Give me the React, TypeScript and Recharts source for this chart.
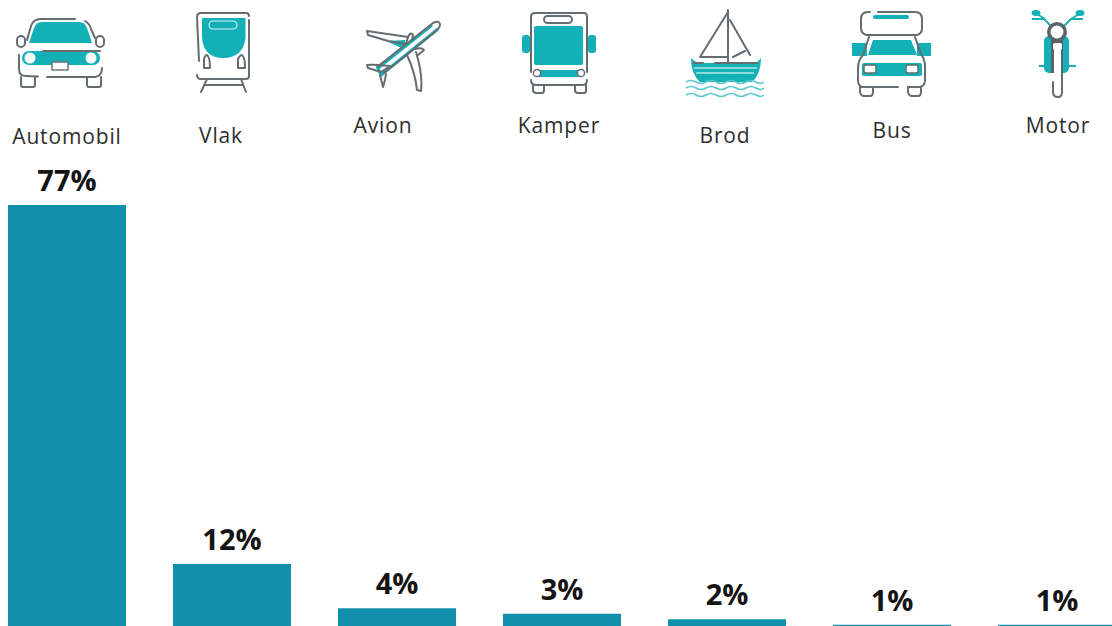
import { Bar, BarChart, LabelList, XAxis, YAxis } from "recharts";

const categories = ["Automobil", "Vlak", "Avion", "Kamper", "Brod", "Bus", "Motor"];
const shares = [77, 12, 4, 3, 2, 1, 1];

const data = categories.map((name, i) => ({ name, share: shares[i] }));

const TEAL = "#13b0b8";
const GREY = "#666d70";
const SHIFT = 16; // chart hangs 16px off the left edge of the page

// category label position on the page: centre x, baseline y
const labelPos: Record<string, [number, number]> = {
  Automobil: [67, 144],
  Vlak: [221, 143],
  Avion: [383, 133],
  Kamper: [559, 133],
  Brod: [725, 143],
  Bus: [892, 138],
  Motor: [1058, 133],
};

const line = { fill: "none", stroke: GREY, strokeWidth: 2, strokeLinecap: "round" as const, strokeLinejoin: "round" as const };

function CarIcon() {
  return (
    <g>
      <path d="M29 43 L34 28 Q36 22 42 22 L79 22 Q85 22 87 28 L92 43 Z" fill={TEAL} />
      <path d="M27 40 L31 26 Q33 19 41 19 L75 19 M85 21 Q90 24 91 29 L95 38" {...line} />
      <rect x="17" y="36" width="8" height="11" rx="4" {...line} />
      <rect x="96" y="36" width="8" height="11" rx="4" {...line} />
      <rect x="22" y="51" width="78" height="14" rx="7" fill={TEAL} />
      <path d="M43 51 L100 51" {...line} />
      <circle cx="30" cy="58" r="5.5" fill="#fff" />
      <circle cx="91" cy="58" r="5.5" fill="#fff" />
      <rect x="52" y="62" width="16" height="8" fill="#fff" stroke={GREY} strokeWidth={1.4} />
      <path d="M19 55 L19 69 Q19 76 26 76 L38 76.5 M47 77 L95 77 Q102 76 102 68" {...line} />
      <path d="M21 77 L21 85 Q21 87 23 87 L33 87 Q35 87 35 85 L35 77 M87 77 L87 85 Q87 87 89 87 L99 87 Q101 87 101 85 L101 77" {...line} />
    </g>
  );
}

function TrainIcon() {
  return (
    <g>
      <path d="M202 18 L245.5 18 L245.5 38 Q243 58 223 58 Q204 58 202 38 Z" fill={TEAL} />
      <rect x="209" y="21" width="28" height="8" rx="4" {...line} strokeWidth={1.2} stroke="#d9eef0" />
      <path d="M199 61 L197 17 Q197 13 201 13 L246 13 Q249 13 249 16 M249 20 L249 76 Q249 79 246 79 L201 79 Q197 79 197 75" {...line} />
      <path d="M204 68 L204 59 Q205 55 207 55 Q210 57 210 68 Z M238 68 L238 59 Q240 55 242 55 Q245 57 245 68 Z" {...line} />
      <path d="M207 79 L201 92 M241 79 L246 92 M204 85 L243 85" {...line} />
    </g>
  );
}

function PlaneIcon() {
  return (
    <g>
      <path d="M405 40 L386 41 L406 50 Z" fill={TEAL} />
      <path d="M434 25 L439 28 L381 75 L376 70 Z" fill="#fff" />
      <path d="M432 25 L378 68 L381 75 L438 29" fill="none" stroke={TEAL} strokeWidth={3} />
      <path d="M377 67 L433 23 Q439 20 440 24 Q440 28 436 31 L384 73" {...line} />
      <path d="M367 31 L408 37 L406 44 L388 41 L368 35 Z" {...line} />
      <path d="M408 37 Q411 31 413 35 L412 40" {...line} />
      <path d="M367 65 Q372 64 390 66 L381 72 L368 68 Z" {...line} />
      <path d="M380 75 L383 87 L385 80 L386 74" {...line} />
      <path d="M407 55 Q415 72 417 90 L421 91 Q423 75 416 52" {...line} />
      <path d="M415 49 Q422 47 424 50 L418 55" {...line} />
    </g>
  );
}

function CamperIcon() {
  return (
    <g>
      <rect x="522" y="35" width="8" height="18" rx="3" fill={TEAL} />
      <rect x="588" y="35" width="8" height="18" rx="3" fill={TEAL} />
      <rect x="534" y="26" width="49" height="39" rx="2" fill={TEAL} />
      <rect x="538" y="70" width="42" height="7" fill={TEAL} />
      <path d="M531 72 L531 17 Q531 13 535 13 L584 13 Q587 13 587 17 L587 72" {...line} />
      <rect x="544" y="16" width="28" height="7" rx="3.5" {...line} />
      <circle cx="537" cy="73" r="3.6" fill="#fff" stroke={GREY} strokeWidth={1.5} />
      <circle cx="581" cy="73" r="3.6" fill="#fff" stroke={GREY} strokeWidth={1.5} />
      <path d="M531 80 Q531 85 536 85 L582 85 Q587 85 587 80" {...line} />
      <path d="M533 85 L533 91 Q534 93 536 93 L542 93 Q544 93 544 90 L544 85 M575 85 L575 90 Q575 93 578 93 L584 93 Q586 93 586 91 L586 85" {...line} />
    </g>
  );
}

function BoatIcon() {
  return (
    <g>
      <path d="M691 58 Q696 63 700 63 L755 63 Q758 62 761 58 Q761 74 752 82 L700 82 Q691 74 691 58 Z" fill={TEAL} />
      <path d="M694 68 L757 68 M696 73 L754 73" fill="none" stroke="#fff" strokeWidth={1} />
      <path d="M728 10 L728 63 M728 12 L700 57 L727 57 M730 20 L750 55 M733 57 L745 51" {...line} />
      <path d="M694 63 L703 63 M715 63 L757 63" {...line} />
      {[82, 88, 95].map((y) => (
        <path
          key={y}
          d={`M686 ${y} q5 -3 10 0 t10 0 t10 0 t10 0 t10 0 t10 0 t10 0 t8 0`}
          fill="none"
          stroke="#5cc8cd"
          strokeWidth={1.7}
        />
      ))}
    </g>
  );
}

function BusIcon() {
  return (
    <g>
      <rect x="852" y="43" width="15" height="13" fill={TEAL} />
      <rect x="917" y="43" width="14" height="13" fill={TEAL} />
      <rect x="873" y="15" width="36" height="4" rx="2" fill={TEAL} />
      <path d="M873 40 L911 40 L917 55 L868 55 Z" fill={TEAL} />
      <rect x="862" y="63" width="60" height="13" rx="2" fill={TEAL} />
      <path d="M866 35 Q861 33 861 28 L861 19 Q861 12 868 12 L870 12 M878 12 L915 12 Q922 12 922 19 L922 28 Q922 34 917 35 L866 35" {...line} />
      <path d="M869 37 L863 55 Q858 60 858 68 L858 80 Q858 86 862 87 L898 87 M908 87 L920 87 Q925 86 925 80 L925 66 Q925 60 921 54 L915 37" {...line} />
      <rect x="864" y="65" width="12" height="8" rx="2" fill="#fff" stroke={GREY} strokeWidth={1.4} />
      <rect x="906" y="65" width="12" height="8" rx="2" fill="#fff" stroke={GREY} strokeWidth={1.4} />
      <path d="M860 87 L860 92 Q861 96 864 96 L870 96 Q873 96 873 92 L873 87 M908 87 L908 92 Q909 96 912 96 L918 96 Q921 96 921 92 L921 87" {...line} />
    </g>
  );
}

function MotorIcon() {
  return (
    <g>
      <ellipse cx="1036" cy="13" rx="4.5" ry="3" fill={TEAL} />
      <ellipse cx="1080" cy="13" rx="4.5" ry="3" fill={TEAL} />
      <path d="M1032 19 L1044 19 L1051 26 M1083 19 L1071 19 L1064 26 M1037 14 L1045 19 M1079 14 L1071 19 M1039 66 L1076 66" fill="none" stroke={TEAL} strokeWidth={1.8} />
      <rect x="1044" y="36" width="25" height="37" rx="5" fill={TEAL} />
      <rect x="1051" y="40" width="12" height="33" fill="#5a6367" />
      <circle cx="1057" cy="32" r="10" fill="#5a6367" />
      <circle cx="1057" cy="32" r="6.5" fill="#fff" />
      <rect x="1053" y="43" width="9" height="7" rx="2" fill="#fff" />
      <rect x="1054" y="50" width="7" height="23" fill="#fff" />
      <path d="M1053 82 L1053 92 Q1053 97 1058 97 Q1062 97 1062 92 L1062 73" {...line} />
    </g>
  );
}

const icons: Record<string, () => React.ReactElement> = {
  Automobil: CarIcon,
  Vlak: TrainIcon,
  Avion: PlaneIcon,
  Kamper: CamperIcon,
  Brod: BoatIcon,
  Bus: BusIcon,
  Motor: MotorIcon,
};

function CategoryTick({ payload }: any) {
  const Icon = icons[payload.value];
  const [x, y] = labelPos[payload.value];
  return (
    <g transform={`translate(${SHIFT},0)`}>
      <g style={{ filter: "blur(0.4px)" }}>
        <Icon />
      </g>
      <text x={x} y={y} textAnchor="middle" fontSize={21} fill="#2e2e2e" letterSpacing={0.85}>
        {payload.value}
      </text>
    </g>
  );
}

export default function App() {
  return (
    <div style={{ position: "fixed", left: 0, top: 0, width: 1112, height: 626, overflow: "hidden", background: "#fff", fontFamily: "'Open Sans', sans-serif" }}>
      <div style={{ position: "absolute", left: -SHIFT, top: 0 }}>
        <BarChart width={1156} height={631} data={data} barSize={118} margin={{ top: 48, right: 1, bottom: 0.7, left: 0 }}>
          <XAxis dataKey="name" orientation="top" height={30} axisLine={false} tickLine={false} interval={0} tick={CategoryTick} />
          <YAxis hide domain={[0, 100]} />
          <Bar dataKey="share" fill="#1390ab" isAnimationActive={false}>
            <LabelList dataKey="share" position="top" offset={14} formatter={(v: number) => `${v}%`} fontSize={29} fontWeight={700} fill="#141414" />
          </Bar>
        </BarChart>
      </div>
    </div>
  );
}
